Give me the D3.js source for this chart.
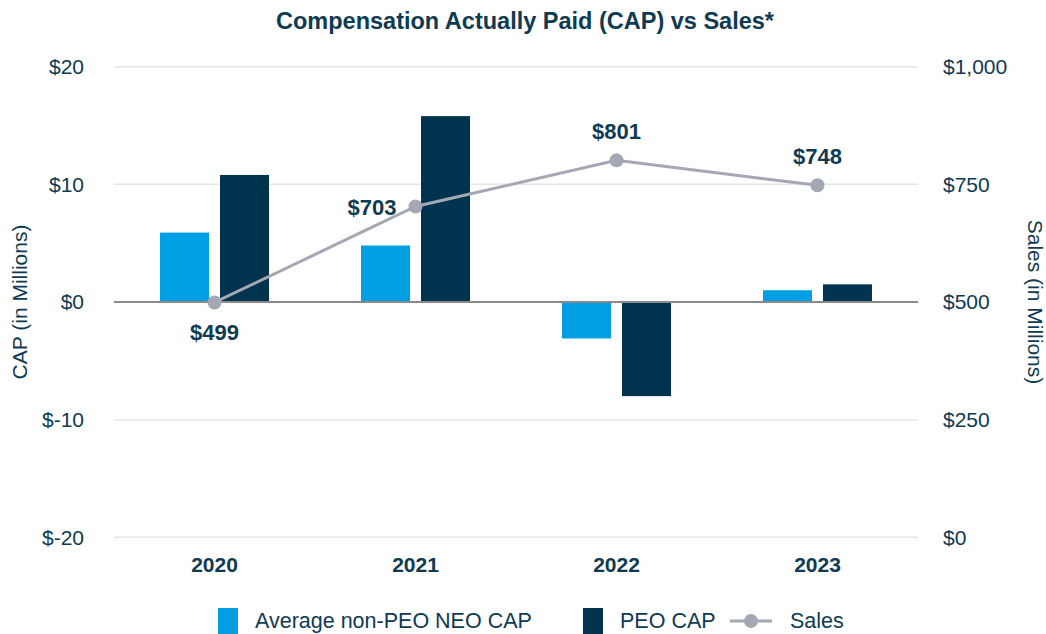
<!DOCTYPE html>
<html>
<head>
<meta charset="utf-8">
<script src="https://cdn.jsdelivr.net/npm/d3@7"></script>
<style>
  body { margin: 0; background: #fff; }
  svg { font-family: "Liberation Sans", Arial, sans-serif; }
</style>
</head>
<body>
<svg id="chart" width="1046" height="634"></svg>
<script>
// chart data
const years = ["2020", "2021", "2022", "2023"];
const neoCap = [5.9, 4.8, -3.1, 1.0];
const peoCap = [10.8, 15.8, -8.0, 1.5];
const sales = [499, 703, 801, 748];
const capTicks = [-20, -10, 0, 10, 20];
const salesTicks = [0, 250, 500, 750, 1000];

const textColor = "#0e3a52";
const lightBlue = "#009ee2";
const navy = "#00344e";
const grey = "#a4a8b4";
const fontFamily = "Liberation Sans, Arial, sans-serif";

const svg = d3.select("#chart");
const plotLeft = 114, plotRight = 918, plotTop = 66.7, plotBottom = 537.3;

const x = d3.scaleBand().domain(years).range([plotLeft, plotRight]);
const y = d3.scaleLinear().domain([-20, 20]).range([plotBottom, plotTop]);
const ySales = d3.scaleLinear().domain([0, 1000]).range([plotBottom, plotTop]);

// title
svg.append("text")
  .attr("x", 525).attr("y", 29)
  .attr("text-anchor", "middle")
  .attr("font-size", 23.5).attr("font-weight", "bold")
  .attr("fill", textColor)
  .text("Compensation Actually Paid (CAP) vs Sales*");

// gridlines
svg.append("g").selectAll("line")
  .data(capTicks.filter(d => d !== 0))
  .join("line")
  .attr("x1", plotLeft).attr("x2", plotRight)
  .attr("y1", d => y(d)).attr("y2", d => y(d))
  .attr("stroke", "#e5e6e8").attr("stroke-width", 1.5);

// left axis
const yAxis = svg.append("g")
  .attr("transform", `translate(${plotLeft},0)`)
  .call(d3.axisLeft(y).tickValues(capTicks).tickSize(0).tickPadding(30)
    .tickFormat(d => "$" + d));
yAxis.select(".domain").remove();
yAxis.selectAll("text").attr("font-size", 21).attr("fill", textColor)
  .attr("font-family", fontFamily);

// right axis
const yAxisR = svg.append("g")
  .attr("transform", `translate(${plotRight},0)`)
  .call(d3.axisRight(ySales).tickValues(salesTicks).tickSize(0).tickPadding(25)
    .tickFormat(d => "$" + d3.format(",")(d)));
yAxisR.select(".domain").remove();
yAxisR.selectAll("text").attr("font-size", 21).attr("fill", textColor)
  .attr("font-family", fontFamily);

// x axis labels
const xAxis = svg.append("g")
  .attr("transform", `translate(0,${plotBottom})`)
  .call(d3.axisBottom(x).tickSize(0).tickPadding(20));
xAxis.select(".domain").remove();
xAxis.selectAll("text").attr("font-size", 21).attr("font-weight", "bold")
  .attr("fill", textColor)
  .attr("font-family", fontFamily);

// axis titles
svg.append("text")
  .attr("transform", `translate(27,${(plotTop + plotBottom) / 2}) rotate(-90)`)
  .attr("text-anchor", "middle")
  .attr("font-size", 21).attr("fill", textColor)
  .text("CAP (in Millions)");
svg.append("text")
  .attr("transform", `translate(1028,${(plotTop + plotBottom) / 2}) rotate(90)`)
  .attr("text-anchor", "middle")
  .attr("font-size", 21).attr("fill", textColor)
  .text("Sales (in Millions)");

// bars
const barW = 49, gap = 11;
const groupW = barW * 2 + gap;
const bars = svg.append("g");
bars.selectAll("rect.neo")
  .data(years)
  .join("rect")
  .attr("class", "neo")
  .attr("x", d => x(d) + x.bandwidth() / 2 - groupW / 2)
  .attr("width", barW)
  .attr("y", (d, i) => y(Math.max(0, neoCap[i])))
  .attr("height", (d, i) => Math.abs(y(neoCap[i]) - y(0)))
  .attr("fill", lightBlue);
bars.selectAll("rect.peo")
  .data(years)
  .join("rect")
  .attr("class", "peo")
  .attr("x", d => x(d) + x.bandwidth() / 2 - groupW / 2 + barW + gap)
  .attr("width", barW)
  .attr("y", (d, i) => y(Math.max(0, peoCap[i])))
  .attr("height", (d, i) => Math.abs(y(peoCap[i]) - y(0)))
  .attr("fill", navy);

// zero line
svg.append("line")
  .attr("x1", plotLeft).attr("x2", plotRight)
  .attr("y1", y(0)).attr("y2", y(0))
  .attr("stroke", "#8a8a8a").attr("stroke-width", 2);

// sales line
const cx = (d, i) => x(years[i]) + x.bandwidth() / 2;
svg.append("path")
  .datum(sales)
  .attr("fill", "none")
  .attr("stroke", grey).attr("stroke-width", 3)
  .attr("d", d3.line().x(cx).y(d => ySales(d)));
svg.append("g").selectAll("circle")
  .data(sales)
  .join("circle")
  .attr("cx", cx).attr("cy", d => ySales(d))
  .attr("r", 7).attr("fill", grey);

// sales labels
const labelPos = [
  { dx: 0, dy: 38, anchor: "middle" },
  { dx: -19, dy: 9, anchor: "end" },
  { dx: 0, dy: -21, anchor: "middle" },
  { dx: 0, dy: -21, anchor: "middle" }
];
svg.append("g").selectAll("text")
  .data(sales)
  .join("text")
  .attr("x", (d, i) => cx(d, i) + labelPos[i].dx)
  .attr("y", (d, i) => ySales(d) + labelPos[i].dy)
  .attr("text-anchor", (d, i) => labelPos[i].anchor)
  .attr("font-size", 22).attr("font-weight", "bold")
  .attr("fill", textColor)
  .text(d => "$" + d);

// legend
const legend = svg.append("g");
legend.append("rect").attr("x", 218).attr("y", 608).attr("width", 20).attr("height", 26).attr("fill", lightBlue);
legend.append("text").attr("x", 255).attr("y", 628).attr("font-size", 21.5).attr("fill", textColor)
  .text("Average non-PEO NEO CAP");
legend.append("rect").attr("x", 583).attr("y", 608).attr("width", 20).attr("height", 26).attr("fill", navy);
legend.append("text").attr("x", 620).attr("y", 628).attr("font-size", 21.5).attr("fill", textColor)
  .text("PEO CAP");
legend.append("line").attr("x1", 730).attr("x2", 772).attr("y1", 621).attr("y2", 621)
  .attr("stroke", grey).attr("stroke-width", 3);
legend.append("circle").attr("cx", 751).attr("cy", 621).attr("r", 7).attr("fill", grey);
legend.append("text").attr("x", 790).attr("y", 628).attr("font-size", 21.5).attr("fill", textColor)
  .text("Sales");
</script>
</body>
</html>
